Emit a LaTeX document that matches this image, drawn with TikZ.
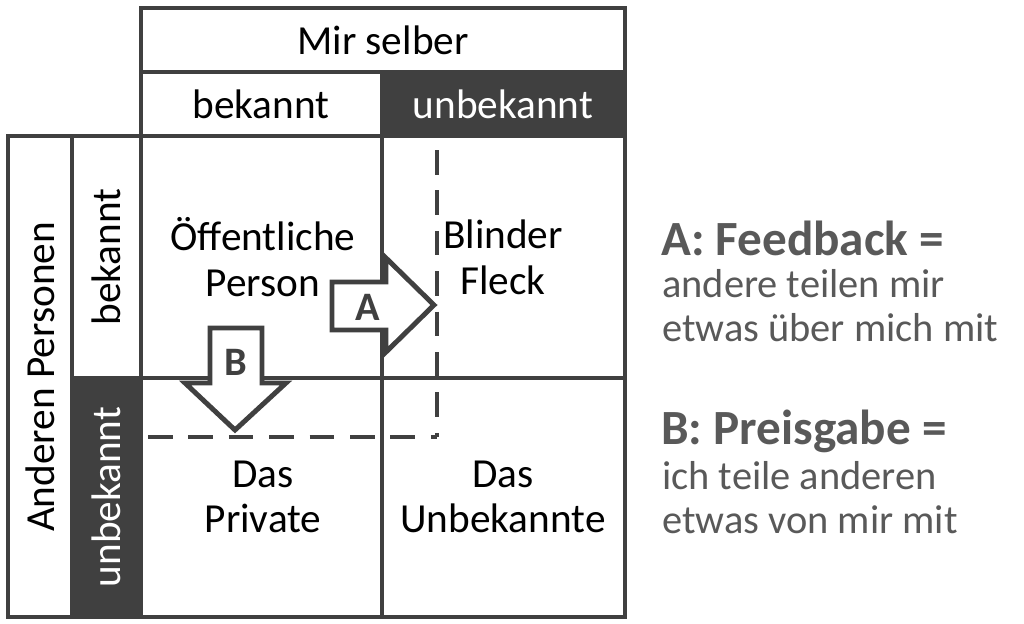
\documentclass[tikz,border=0pt]{standalone}
\usepackage{fontspec}
\setmainfont{Carlito}
\definecolor{dk}{HTML}{404040}
\definecolor{tx}{HTML}{595959}
\begin{document}
\begin{tikzpicture}[x=0.02cm,y=-0.02cm,
  ln/.style={draw=dk,line width=2.8pt},
  lab/.style={font=\fontsize{23.5}{26}\selectfont,text=black,align=center},
  wlab/.style={font=\fontsize{23.5}{26}\selectfont,text=white,align=center},
  rt/.style={font=\fontsize{23}{24}\selectfont,text=tx,anchor=west,align=left},
  rb/.style={font=\fontsize{28}{30}\selectfont\bfseries,text=tx,anchor=west}]
\useasboundingbox (0,0) rectangle (1024,623);
% header
\draw[ln] (141,8) rectangle (625,72);
\node[lab] (mir) at (383,40) {Mir selber};
\draw[ln] (141,72) rectangle (382,136);
\node[lab] (bk1) at (261,104) {bekannt};
\draw[ln,fill=dk] (382,72) rectangle (625,136);
\node[wlab] (ub1) at (503,104) {unbekannt};
% left
\draw[ln] (8,136) rectangle (72,617);
\node[lab,rotate=90] (andere) at (40,377) {Anderen Personen};
\draw[ln] (72,136) rectangle (141,378);
\node[lab,rotate=90] (bk2) at (106,257) {bekannt};
\draw[ln,fill=dk] (72,378) rectangle (141,617);
\node[wlab,rotate=90] (ub2) at (106,497) {unbekannt};
% grid
\draw[ln] (141,136) rectangle (625,617);
\draw[ln] (382,136) -- (382,617);
\draw[ln] (141,378) -- (625,378);
% dashed
\draw[ln,dash pattern=on 14pt off 9pt] (437,150) -- (437,437);
\draw[ln,dash pattern=on 14pt off 9pt] (148,437) -- (437,437);
% quadrants
\node[lab] (q1) at (263,257) {Öffentliche\\Person};
\node[lab] (q2) at (503,257) {Blinder\\Fleck};
\node[lab] (q3) at (263,497) {Das\\Private};
\node[lab] (q4) at (503,497) {Das\\Unbekannte};
% arrow A
\draw[ln,fill=white,line join=miter] (332,282) -- (386,282) -- (386,258) -- (434,305) -- (386,352) -- (386,330) -- (332,330) -- cycle;
\node[font=\fontsize{23}{26}\selectfont\bfseries,text=dk] (A) at (368,307) {A};
% arrow B
\draw[ln,fill=white,line join=miter] (210,328) -- (262,328) -- (262,383) -- (286,383) -- (235,430) -- (185,383) -- (210,383) -- cycle;
\node[font=\fontsize{23}{26}\selectfont\bfseries,text=dk] (B) at (236,362) {B};
% right text
\node[rb] (fa) at (655,238) {A: Feedback =};
\node[rt] (fb) at (656,306) {andere teilen mir\\[1pt]etwas über mich mit};
\node[rb] (pa) at (655,431) {B: Preisgabe =};
\node[rt] (pb) at (656,498) {ich teile anderen\\[1pt]etwas von mir mit};
\end{tikzpicture}
\end{document}
